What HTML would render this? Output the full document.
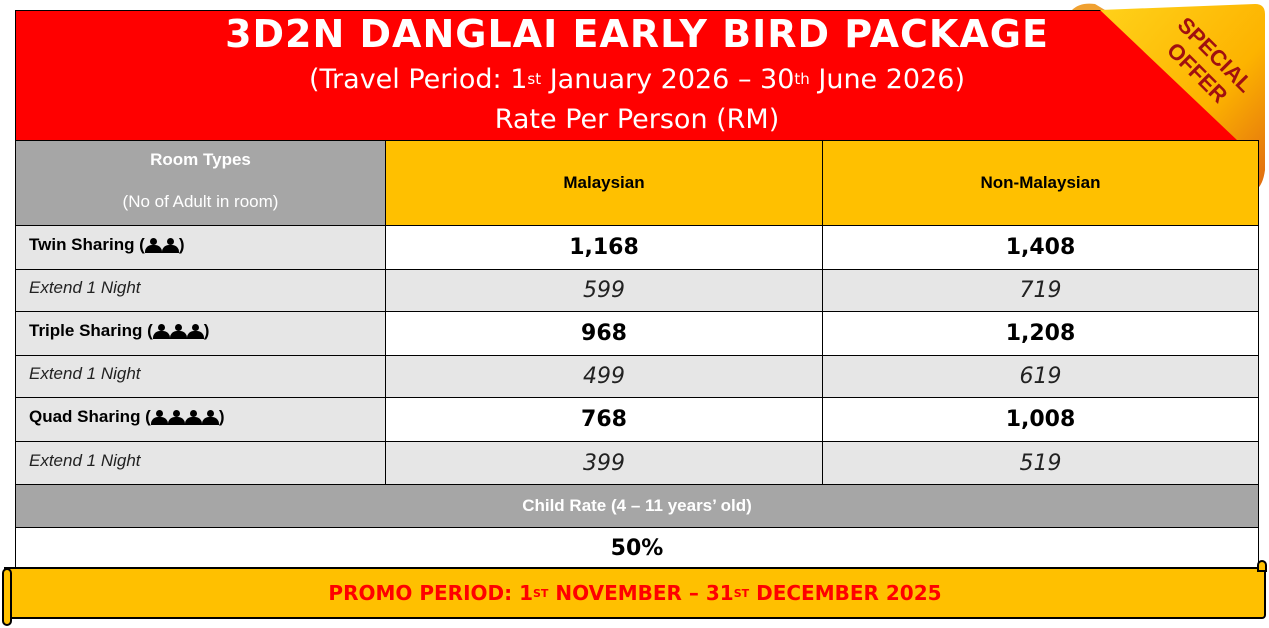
<!DOCTYPE html>
<html><head><style>
body{margin:0;width:1269px;height:628px;background:#fff;position:relative;overflow:hidden;font-family:"Liberation Sans",sans-serif}
.a{position:absolute;box-sizing:border-box}
.c{display:flex;align-items:center;justify-content:center;text-align:center}
.l{display:flex;align-items:center;padding-left:13px}
.b{font-weight:bold;font-size:17px;color:#000}
.i{font-style:italic;font-size:17px;color:#222}
.n{font-family:"DejaVu Sans","Liberation Sans",sans-serif;font-weight:bold;font-size:22px}
.ni{font-family:"DejaVu Sans","Liberation Sans",sans-serif;font-style:italic;font-size:22px;color:#222}
.p{display:inline-block;width:17px;height:14px;position:relative;vertical-align:-3px;margin-right:0}
.p:before{content:"";position:absolute;left:5px;top:0;width:7px;height:7px;border-radius:50%;background:#000}
.p:after{content:"";position:absolute;left:0;top:7px;width:17px;height:8px;border-radius:7px 7px 0 0;background:#000}
</style></head><body>
<div class="a" style="left:15px;top:10px;width:1244px;height:131px;background:#f00;border:1px solid #000"></div>
<div class="a c" style="left:15px;top:12px;width:1244px;height:44px;color:#fff;font-weight:bold;font-size:38px;font-family:'DejaVu Sans','Liberation Sans',sans-serif;letter-spacing:1px">3D2N DANGLAI EARLY BIRD PACKAGE</div>
<div class="a c" style="left:15px;top:60px;width:1244px;height:38px;color:#fff;font-size:27px;font-family:'DejaVu Sans',sans-serif">(Travel Period: 1<sup style="font-size:15px">st</sup>&nbsp;January 2026 – 30<sup style="font-size:15px">th</sup>&nbsp;June 2026)</div>
<div class="a c" style="left:15px;top:100px;width:1244px;height:38px;color:#fff;font-size:27px;font-family:'DejaVu Sans',sans-serif">Rate Per Person (RM)</div>
<svg class="a" style="left:1060px;top:0" width="209" height="200" viewBox="0 0 209 200">
<defs><linearGradient id="g" x1="0" y1="0" x2="1" y2="1"><stop offset="0" stop-color="#ffd21a"/><stop offset="0.6" stop-color="#fdb300"/><stop offset="1" stop-color="#e06a10"/></linearGradient></defs>
<path d="M40 10 L195 4 Q205 4 205 14 L205 170 Q203 185 196 190 L178 141 Z" fill="url(#g)"/>
<path d="M12 10 Q20 2 35 4 L45 10 Z" fill="#f0a030"/>
<text x="150" y="60" transform="rotate(45 150 60)" text-anchor="middle" font-family="Liberation Sans" font-weight="bold" font-size="22" fill="#a01010">SPECIAL</text>
<text x="132" y="78" transform="rotate(45 132 78)" text-anchor="middle" font-family="Liberation Sans" font-weight="bold" font-size="22" fill="#a01010">OFFER</text>
</svg>
<div class="a c" style="left:15px;top:140px;width:371px;height:86px;background:#a6a6a6;border:1px solid #000;color:#fff;font-size:17px;flex-direction:column;line-height:21px"><b style="margin-top:-6px">Room Types</b><br><span>(No of Adult in room)</span></div>
<div class="a c b" style="left:385px;top:140px;width:438px;height:86px;background:#ffc000;border:1px solid #000">Malaysian</div>
<div class="a c b" style="left:822px;top:140px;width:437px;height:86px;background:#ffc000;border:1px solid #000">Non-Malaysian</div>
<div class="a l b" style="left:15px;top:225px;width:371px;height:45px;background:#e6e6e6;border:1px solid #000;padding-bottom:6px">Twin Sharing (<span class="p"></span><span class="p"></span>)</div>
<div class="a c n" style="left:385px;top:225px;width:438px;height:45px;border:1px solid #000">1,168</div>
<div class="a c n" style="left:822px;top:225px;width:437px;height:45px;border:1px solid #000">1,408</div>
<div class="a l i" style="left:15px;top:269px;width:371px;height:43px;background:#e6e6e6;border:1px solid #000;padding-bottom:5px">Extend 1 Night</div>
<div class="a c ni" style="left:385px;top:269px;width:438px;height:43px;background:#e6e6e6;border:1px solid #000">599</div>
<div class="a c ni" style="left:822px;top:269px;width:437px;height:43px;background:#e6e6e6;border:1px solid #000">719</div>
<div class="a l b" style="left:15px;top:311px;width:371px;height:45px;background:#e6e6e6;border:1px solid #000;padding-bottom:6px">Triple Sharing (<span class="p"></span><span class="p"></span><span class="p"></span>)</div>
<div class="a c n" style="left:385px;top:311px;width:438px;height:45px;border:1px solid #000">968</div>
<div class="a c n" style="left:822px;top:311px;width:437px;height:45px;border:1px solid #000">1,208</div>
<div class="a l i" style="left:15px;top:355px;width:371px;height:43px;background:#e6e6e6;border:1px solid #000;padding-bottom:5px">Extend 1 Night</div>
<div class="a c ni" style="left:385px;top:355px;width:438px;height:43px;background:#e6e6e6;border:1px solid #000">499</div>
<div class="a c ni" style="left:822px;top:355px;width:437px;height:43px;background:#e6e6e6;border:1px solid #000">619</div>
<div class="a l b" style="left:15px;top:397px;width:371px;height:45px;background:#e6e6e6;border:1px solid #000;padding-bottom:6px">Quad Sharing (<span class="p"></span><span class="p"></span><span class="p"></span><span class="p"></span>)</div>
<div class="a c n" style="left:385px;top:397px;width:438px;height:45px;border:1px solid #000">768</div>
<div class="a c n" style="left:822px;top:397px;width:437px;height:45px;border:1px solid #000">1,008</div>
<div class="a l i" style="left:15px;top:441px;width:371px;height:44px;background:#e6e6e6;border:1px solid #000;padding-bottom:5px">Extend 1 Night</div>
<div class="a c ni" style="left:385px;top:441px;width:438px;height:44px;background:#e6e6e6;border:1px solid #000">399</div>
<div class="a c ni" style="left:822px;top:441px;width:437px;height:44px;background:#e6e6e6;border:1px solid #000">519</div>
<div class="a c" style="left:15px;top:484px;width:1244px;height:44px;background:#a6a6a6;border:1px solid #000;color:#fff;font-weight:bold;font-size:17px">Child Rate (4 – 11 years’ old)</div>
<div class="a c n" style="left:15px;top:527px;width:1244px;height:42px;border-left:1px solid #000;border-right:1px solid #000">50%</div>
<div class="a c" style="left:4px;top:567px;width:1262px;height:52px;background:#ffc000;border:2px solid #000;border-radius:0 0 4px 4px;color:#f00;font-weight:bold;font-size:20px;font-family:'DejaVu Sans','Liberation Sans',sans-serif">PROMO PERIOD: 1<sup style="font-size:11px">ST</sup>&nbsp;NOVEMBER – 31<sup style="font-size:11px">ST</sup>&nbsp;DECEMBER 2025</div>
<div class="a" style="left:2px;top:568px;width:10px;height:58px;background:#ffc000;border:2px solid #000;border-radius:5px"></div>
<div class="a" style="left:1257px;top:560px;width:10px;height:12px;background:#ffc000;border:2px solid #000;border-radius:5px 5px 0 0"></div>
</body></html>
